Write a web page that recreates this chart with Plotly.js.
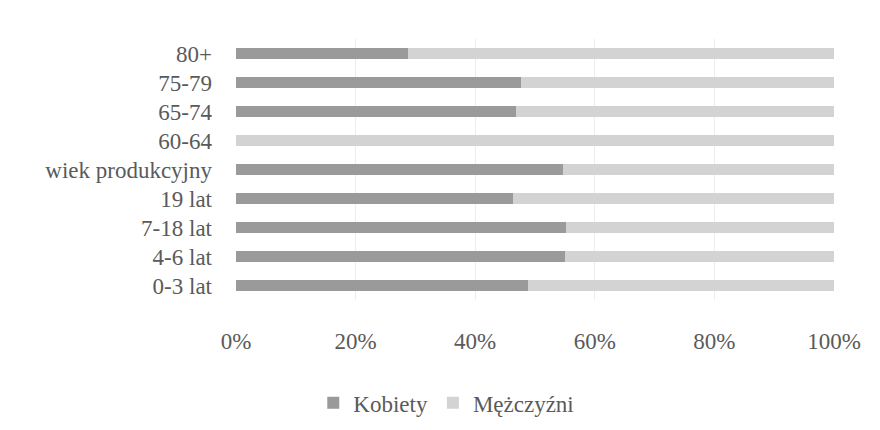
<!DOCTYPE html>
<html>
<head>
<meta charset="utf-8">
<script src="https://cdn.plot.ly/plotly-3.0.1.min.js"></script>
<style>html,body{margin:0;padding:0;background:#fff;}#chart{width:880px;height:430px;}</style>
</head>
<body>
<div id="chart"></div>
<script>
const categories = ['0-3 lat', '4-6 lat', '7-18 lat', '19 lat', 'wiek produkcyjny', '60-64', '65-74', '75-79', '80+'];
const kobiety = [48.9, 55.0, 55.1, 46.4, 54.7, 0, 46.9, 47.6, 28.8];
const mezczyzni = [51.1, 45.0, 44.9, 53.6, 45.3, 100, 53.1, 52.4, 71.2];
const tickValues = [0, 20, 40, 60, 80, 100];
const tickLabels = ['0%', '20%', '40%', '60%', '80%', '100%'];

const font = {family: '"Liberation Serif", "Times New Roman", serif', size: 23, color: '#5a5a5a'};

const data = [
  {type: 'bar', orientation: 'h', name: 'Kobiety', y: categories, x: kobiety,
   marker: {color: '#9a9a9a'}},
  {type: 'bar', orientation: 'h', name: 'Mężczyźni', y: categories, x: mezczyzni,
   marker: {color: '#d3d3d3'}}
];

const layout = {
  width: 880, height: 430,
  margin: {l: 236, r: 46, t: 39, b: 130, autoexpand: false},
  paper_bgcolor: '#ffffff', plot_bgcolor: '#ffffff',
  barmode: 'stack', bargap: 0.62,
  font: font,
  showlegend: true,
  xaxis: {range: [0, 100], tickvals: tickValues, ticktext: tickLabels,
    showgrid: true, gridcolor: '#ededed', gridwidth: 1, zeroline: false,
    showline: false, ticks: '', ticklabelstandoff: 25, fixedrange: true, automargin: false},
  yaxis: {type: 'category', categoryorder: 'array', categoryarray: categories,
    showgrid: false, zeroline: false, showline: false, ticks: '',
    ticklabelstandoff: 23, fixedrange: true, automargin: false},
  legend: {orientation: 'h', xref: 'container', yref: 'container',
    x: 0.356, xanchor: 'left', y: 0.063, yanchor: 'middle',
    font: font, bgcolor: 'rgba(0,0,0,0)', traceorder: 'normal', itemclick: false}
};

Plotly.newPlot('chart', data, layout, {displayModeBar: false, staticPlot: true});
</script>
</body>
</html>
